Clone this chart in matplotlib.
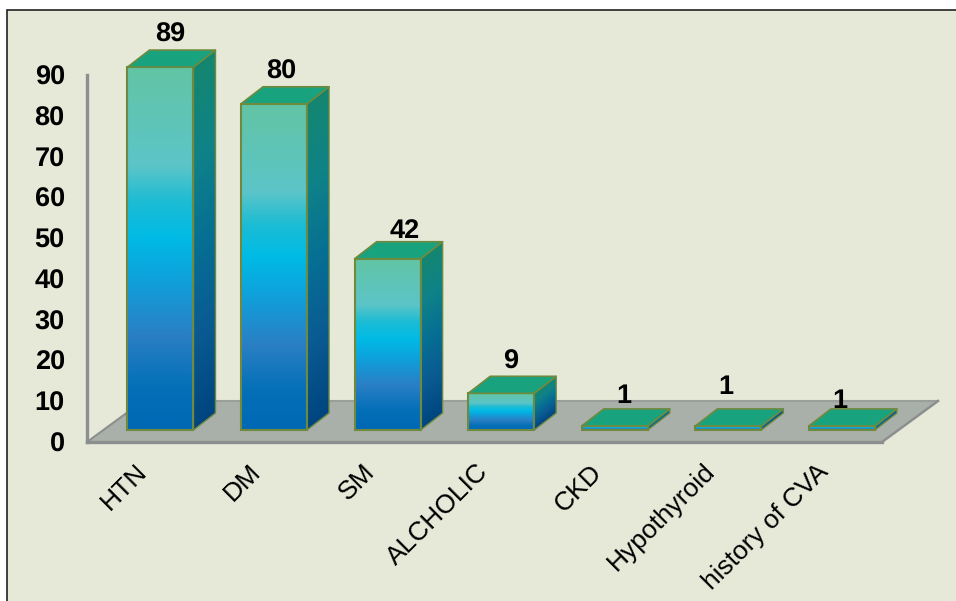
import numpy as np
import matplotlib
matplotlib.use('Agg')
import matplotlib.pyplot as plt
from matplotlib.colors import LinearSegmentedColormap
from matplotlib.patches import Polygon, Rectangle
from matplotlib.transforms import ScaledTranslation

categories = ['HTN', 'DM', 'SM', 'ALCHOLIC', 'CKD', 'Hypothyroid', 'history of CVA']
values = [89, 80, 42, 9, 1, 1, 1]
yticks = [0, 10, 20, 30, 40, 50, 60, 70, 80, 90]

# labels were placed by hand in the original, offsets in pixels from the bar
label_dx = [10, 7, 17, 9, 9, -2, -2]
label_dy = [15, 15, 11, 15, 13, 22, 8]

plt.rcParams['font.family'] = ['Liberation Sans', 'DejaVu Sans']
plt.rcParams['text.hinting'] = 'none'

bg = '#e6e9d8'
edge = '#6f8a3f'
floor_col = '#a9b0a9'
grey = '#8b8f90'
top_col = '#18a37e'

front_cmap = LinearSegmentedColormap.from_list('front', [(0, '#62c4a4'), (0.27, '#5cc5c8'), (0.37, '#1cbcd4'),
                                                         (0.47, '#00bbe6'), (0.58, '#0ea2dc'), (0.74, '#2a7fc4'),
                                                         (0.88, '#0470b8'), (1, '#0068b5')])
side_cmap = LinearSegmentedColormap.from_list('side', ['#14866f', '#0f8288', '#066f94', '#0a5a92', '#00457f'])

fig = plt.figure(figsize=(9.56, 6.01), dpi=100, facecolor='white')
# background panel, runs off the right and bottom of the picture
fig.add_artist(Rectangle((7 / 956, -0.02), 1, 1 - 10 / 601 + 0.02, transform=fig.transFigure,
                         facecolor=bg, edgecolor='#222222', linewidth=1.2, zorder=-5))

ax = fig.add_axes([87 / 956, (601 - 442) / 601, 795 / 956, 367 / 601])
ax.patch.set_visible(False)

# pixels per data unit
ux = 795 / 7
uy = 367 / 90
depth_x = 22 / ux
depth_y = 17 / uy
bar_w = 66 / ux
shift_x = 16.7 / ux
shift_y = 12 / uy

# floor
fx = 56 / ux
fy = 41 / uy
floor = Polygon([(-0.5, 0), (6.5, 0), (6.5 + fx, fy), (-0.5 + fx, fy)], facecolor=floor_col, edgecolor='none', zorder=1, clip_on=False)
ax.add_patch(floor)
ax.plot([-0.5, -0.5 + fx], [0, fy], color=grey, lw=1.5, zorder=2, clip_on=False)
ax.plot([-0.5 + fx, 6.5 + fx], [fy, fy], color='#9a9f9c', lw=1.5, zorder=2, clip_on=False)
ax.plot([6.5, 6.5 + fx], [0, fy], color=grey, lw=1.8, zorder=2, clip_on=False)
ax.plot([-0.5, 6.5], [0, 0], color=grey, lw=2.4, zorder=2, clip_on=False)
ax.plot([-0.5, -0.5], [0, 90], color=grey, lw=2.4, zorder=2, clip_on=False)

grad = np.linspace(0, 1, 256).reshape(-1, 1)
for i, v in enumerate(values):
    x0 = i - bar_w / 2 + shift_x
    x1 = x0 + bar_w
    y0 = shift_y
    y1 = v + shift_y

    side = Polygon([(x1, y0), (x1 + depth_x, y0 + depth_y), (x1 + depth_x, y1 + depth_y), (x1, y1)],
                   facecolor='none', edgecolor=edge, lw=1.0, zorder=4, clip_on=False, joinstyle='round')
    ax.add_patch(side)
    # side gradient follows the shear of the face
    xs, ys = np.meshgrid(np.linspace(0, 1, 32), np.linspace(0, 1, 256))
    side_grad = np.clip((ys * (v + depth_y) - depth_y * (1 - xs)) / v, 0, 1)
    im = ax.imshow(side_grad, cmap=side_cmap, vmin=0, vmax=1, extent=[x1, x1 + depth_x, y0, y1 + depth_y],
                   aspect='auto', zorder=3)
    im.set_clip_box(fig.bbox)
    im.set_clip_path(side)

    ax.imshow(grad, cmap=front_cmap, vmin=0, vmax=1, extent=[x0, x1, y0, y1], aspect='auto', zorder=3, clip_on=False)
    ax.add_patch(Rectangle((x0, y0), bar_w, v, facecolor='none', edgecolor=edge, lw=1.5, zorder=5, clip_on=False))

    ax.add_patch(Polygon([(x0, y1), (x1, y1), (x1 + depth_x, y1 + depth_y), (x0 + depth_x, y1 + depth_y)],
                         facecolor=top_col, edgecolor=edge, lw=1.2, zorder=6, clip_on=False, joinstyle='round'))

    ax.text(i + shift_x + label_dx[i] / ux, y1 + (17 + label_dy[i]) / uy, str(v), ha='center', va='center',
            fontsize=19.5, fontweight='bold', color='black', zorder=7, clip_on=False)

ax.set_xlim(-0.5, 6.5)
ax.set_ylim(0, 90)
for s in ax.spines.values():
    s.set_visible(False)

ax.set_yticks(yticks)
ax.set_yticklabels([str(t) for t in yticks], fontsize=19.5, fontweight='bold')
ax.set_xticks(range(len(categories)))
ax.set_xticklabels(categories, fontsize=19, rotation=45, ha='right', rotation_mode='anchor')
ax.tick_params(axis='y', length=0, pad=16)
ax.tick_params(axis='x', length=0, pad=12.7)
# x labels sit a bit left of the ticks
for lab in ax.get_xticklabels():
    lab.set_transform(lab.get_transform() + ScaledTranslation(-8.5 / 100, 0, fig.dpi_scale_trans))

fig.savefig('out.png', dpi=100, facecolor='white')
